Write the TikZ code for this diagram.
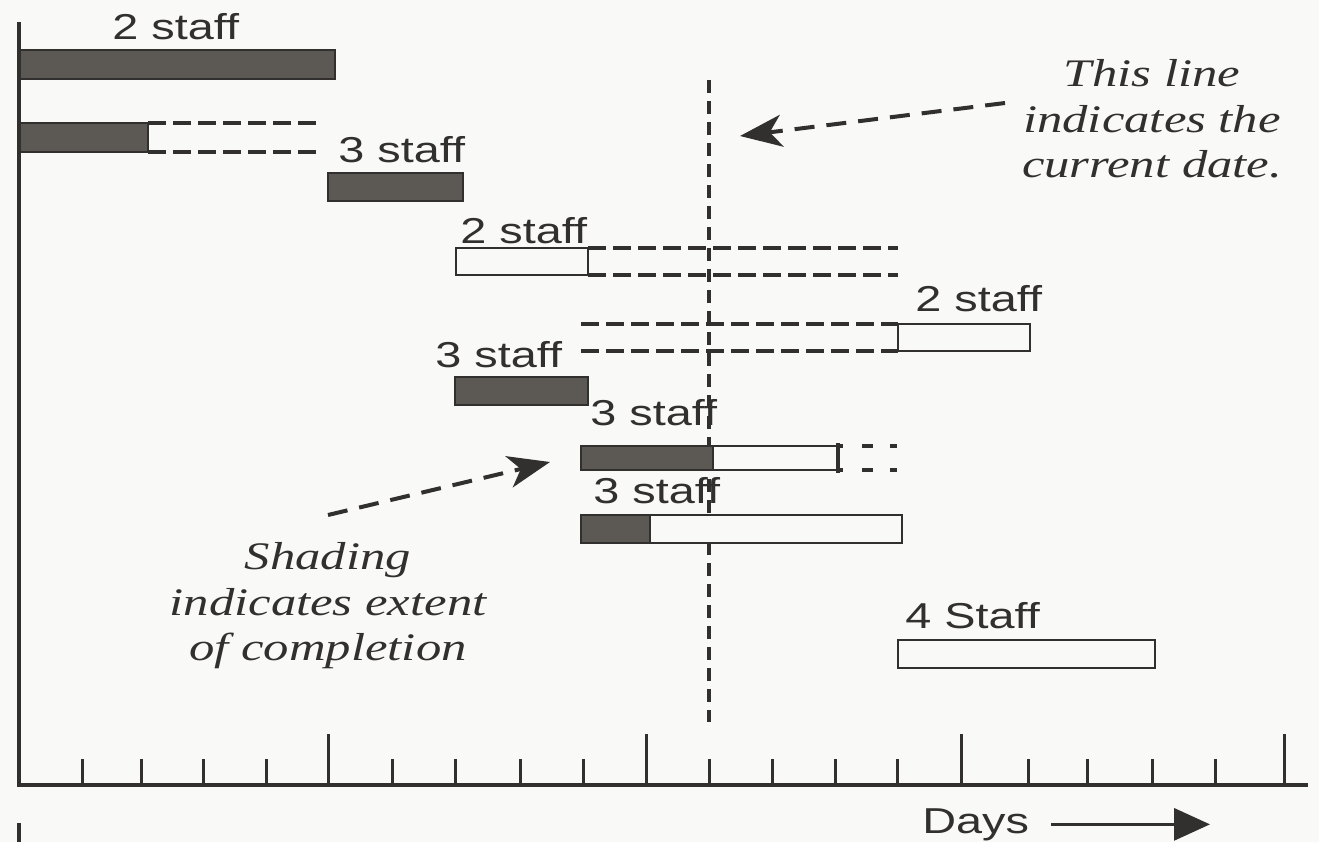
\documentclass[tikz,border=0pt]{standalone}
\usepackage{fontspec}
\usepackage{graphicx}
\usetikzlibrary{arrows.meta}
\newfontfamily\labelsans{Liberation Sans}
\newfontfamily\noteserif{Liberation Serif}
\definecolor{ink}{RGB}{50,48,46}
\definecolor{barfill}{RGB}{92,88,84}
\definecolor{paper}{RGB}{249,249,247}
% text in this chart is set slightly wide
\newcommand{\wide}[1]{\scalebox{1.3}[1]{#1}}
% a Gantt bar: name, x1, y1, x2, y2, style
\newcommand{\gbar}[6]{\node[#6, minimum width={(#4-#2)*0.5pt}, minimum height={(#5-#3)*0.5pt}] (#1) at (#2,#3) {};}

\begin{document}
\begin{tikzpicture}[x=0.5pt,y=-0.5pt,
  axis/.style={ink, line width=1.6pt},
  tickmark/.style={ink, line width=1.5pt},
  barbase/.style={draw=ink, line width=1.4pt, inner sep=0pt, outer sep=0pt, anchor=north west, rectangle},
  donebar/.style={barbase, fill=barfill},
  openbar/.style={barbase, fill=paper},
  slack/.style={ink, line width=1.6pt, dash pattern=on 9pt off 3.5pt},
  nowline/.style={ink, line width=1.7pt, dash pattern=on 6.5pt off 4pt},
  staff/.style={font=\labelsans\fontsize{18}{21}\selectfont, text=ink, inner sep=0pt, anchor=base west},
  note/.style={font=\noteserif\itshape\fontsize{19.5}{22.75}\selectfont, text=ink, inner sep=0pt},
  pointer/.style={ink, line width=2pt, dash pattern=on 10pt off 6pt, -{Stealth[length=21pt,width=16pt,inset=6pt]}},
  daysarrow/.style={ink, line width=1.6pt, -{Triangle[length=18pt,width=16pt]}}
]
\fill[paper] (0,0) rectangle (1319,842);
\useasboundingbox (0,0) rectangle (1319,842);

% axes
\coordinate (ytop) at (19,22);
\coordinate (origin) at (19,785);
\coordinate (xend) at (1308,785);
\draw[axis] (ytop) -- (origin) -- (xend);
\draw[axis] (19,823) -- (19,842);
\foreach \t in {82,141,203,266,392,455,520,583,709,772,835,897,1028,1087,1152,1215}
  \draw[tickmark] (\t,785) -- (\t,759);
\foreach \t in {328,646,961,1284}
  \draw[tickmark] (\t,785) -- (\t,734);

% current date
\coordinate (nowtop) at (709,80);
\coordinate (nowbot) at (709,722);
\draw[nowline] (nowtop) -- (nowbot);

% activity bars
\gbar{b1}{20}{50}{335}{79}{donebar}
\gbar{b2}{20}{123}{148}{152}{donebar}
\gbar{b3}{328}{173}{463}{201}{donebar}
\gbar{b4}{456}{248}{588}{275}{openbar}
\gbar{b5}{898}{324}{1030}{351}{openbar}
\gbar{b6}{455}{377}{588}{405}{donebar}
\gbar{b7done}{581}{446}{713}{470}{donebar}
\gbar{b7todo}{713}{446}{838}{470}{openbar}
\gbar{b8done}{581}{515}{650}{543}{donebar}
\gbar{b8todo}{650}{515}{902}{543}{openbar}
\gbar{b9}{898}{640}{1155}{668}{openbar}

% float (slack) lines
\coordinate (b2end1) at (322,123);
\coordinate (b2end2) at (322,152);
\draw[slack] (b2.north east) -- (b2end1);
\draw[slack] (b2.south east) -- (b2end2);
\coordinate (b4end1) at (898,248);
\coordinate (b4end2) at (898,275);
\draw[slack] (b4.north east) -- (b4end1);
\draw[slack] (b4.south east) -- (b4end2);
\coordinate (b5start1) at (581,324);
\coordinate (b5start2) at (581,351);
\draw[slack] (b5start1) -- (b5.north west);
\draw[slack] (b5start2) -- (b5.south west);
\draw[ink, line width=1.8pt] ([yshift=1.5pt]b7todo.north east) -- ([yshift=-1.5pt]b7todo.south east);
\coordinate (b7end1) at (897,446);
\coordinate (b7end2) at (897,470);
\draw[slack, dash pattern=on 2.5pt off 9.5pt on 5.5pt off 8.5pt on 4pt off 10pt] (b7todo.north east) -- (b7end1);
\draw[slack, dash pattern=on 2.5pt off 9.5pt on 5.5pt off 8.5pt on 4pt off 10pt] (b7todo.south east) -- (b7end2);

% staffing labels
\node[staff] (l1) at (112,39) {\wide{2 staff}};
\node[staff] (l3) at (338,162) {\wide{3 staff}};
\node[staff] (l4) at (460,243) {\wide{2 staff}};
\node[staff] (l5) at (915,311) {\wide{2 staff}};
\node[staff] (l6) at (435,367) {\wide{3 staff}};
\node[staff] (l7) at (590,425) {\wide{3 staff}};
\node[staff] (l8) at (593,503) {\wide{3 staff}};
\node[staff] (l9) at (905,628) {\wide{4 Staff}};
\node[staff] (days) at (922,833) {\wide{Days}};

% time direction
\coordinate (daysend) at (1210,822);
\draw[daysarrow] ([xshift=11pt]days.east) -- (daysend |- days.east);

% notes
\node[note] (nownote) at (1152,123)
  {\wide{\begin{tabular}{@{}c@{}}This line\\indicates the\\current date.\end{tabular}}};
\node[note] (shadenote) at (328,606)
  {\wide{\begin{tabular}{@{}c@{}}Shading\\indicates extent\\of completion\end{tabular}}};

\coordinate (nowtail) at (1005,103);
\coordinate (nowtip) at (740,136);
\draw[pointer] (nowtail) -- (nowtip);
\coordinate (shadetail) at (328,515);
\coordinate (shadetip) at (550,462);
\draw[pointer] (shadetail) -- (shadetip);
\end{tikzpicture}
\end{document}
